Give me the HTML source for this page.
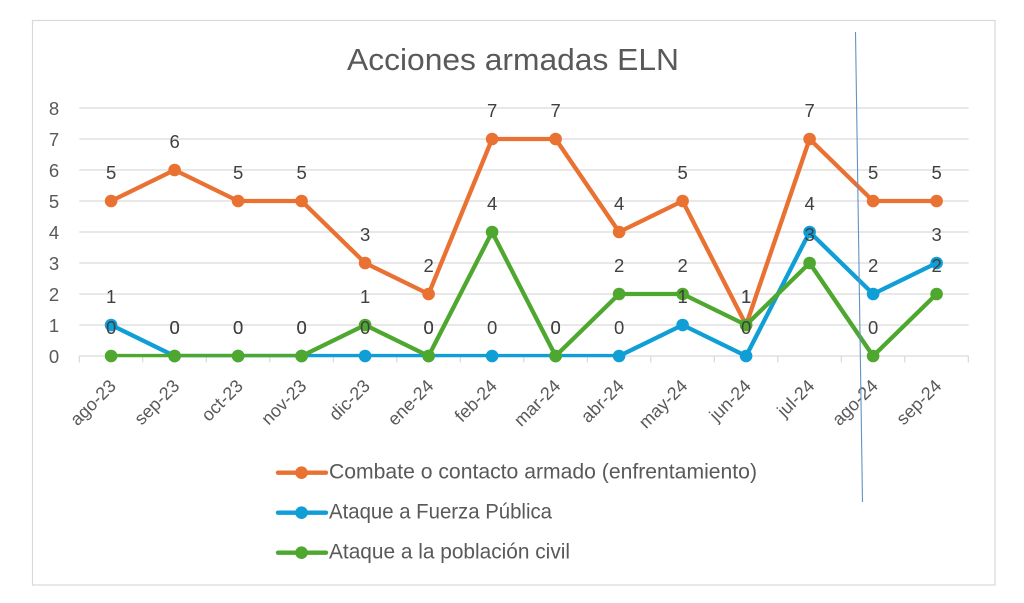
<!DOCTYPE html>
<html>
<head>
<meta charset="utf-8">
<style>
html,body{margin:0;padding:0;background:#ffffff;}
body{width:1024px;height:603px;overflow:hidden;}
svg{display:block;}
text{font-family:"Liberation Sans",Arial,sans-serif;}
</style>
</head>
<body>
<svg width="1024" height="603" viewBox="0 0 1024 603" xmlns="http://www.w3.org/2000/svg">
<defs>
<clipPath id="pc"><rect x="0" y="0" width="1024" height="357.2"/></clipPath>
</defs>
<rect x="0" y="0" width="1024" height="603" fill="#ffffff"/>
<rect x="32.5" y="20.5" width="962.5" height="564.5" fill="#ffffff" stroke="#d9d9d9" stroke-width="1.2"/>

<!-- title -->
<text x="347" y="70" font-size="31" fill="#595959" textLength="332" lengthAdjust="spacingAndGlyphs">Acciones armadas ELN</text>

<!-- gridlines -->
<g stroke="#d9d9d9" stroke-width="1.2">
<line x1="79.3" y1="108" x2="968.7" y2="108"/>
<line x1="79.3" y1="139" x2="968.7" y2="139"/>
<line x1="79.3" y1="170" x2="968.7" y2="170"/>
<line x1="79.3" y1="201" x2="968.7" y2="201"/>
<line x1="79.3" y1="232" x2="968.7" y2="232"/>
<line x1="79.3" y1="263" x2="968.7" y2="263"/>
<line x1="79.3" y1="294" x2="968.7" y2="294"/>
<line x1="79.3" y1="325" x2="968.7" y2="325"/>
<line x1="79.3" y1="356" x2="968.7" y2="356"/>
</g>
<!-- ticks -->
<g stroke="#d9d9d9" stroke-width="1.2">
<line x1="79.3" y1="356" x2="79.3" y2="362.5"/>
<line x1="142.8" y1="356" x2="142.8" y2="362.5"/>
<line x1="206.3" y1="356" x2="206.3" y2="362.5"/>
<line x1="269.8" y1="356" x2="269.8" y2="362.5"/>
<line x1="333.3" y1="356" x2="333.3" y2="362.5"/>
<line x1="396.8" y1="356" x2="396.8" y2="362.5"/>
<line x1="460.3" y1="356" x2="460.3" y2="362.5"/>
<line x1="523.8" y1="356" x2="523.8" y2="362.5"/>
<line x1="587.3" y1="356" x2="587.3" y2="362.5"/>
<line x1="650.8" y1="356" x2="650.8" y2="362.5"/>
<line x1="714.3" y1="356" x2="714.3" y2="362.5"/>
<line x1="777.8" y1="356" x2="777.8" y2="362.5"/>
<line x1="841.3" y1="356" x2="841.3" y2="362.5"/>
<line x1="904.8" y1="356" x2="904.8" y2="362.5"/>
<line x1="968.3" y1="356" x2="968.3" y2="362.5"/>
</g>

<!-- y labels -->
<g font-size="18.5" fill="#595959" text-anchor="middle">
<text x="54" y="114.8">8</text>
<text x="54" y="145.8">7</text>
<text x="54" y="176.8">6</text>
<text x="54" y="207.8">5</text>
<text x="54" y="238.8">4</text>
<text x="54" y="269.8">3</text>
<text x="54" y="300.8">2</text>
<text x="54" y="331.8">1</text>
<text x="54" y="362.8">0</text>
</g>

<!-- x labels -->
<g font-size="18" fill="#595959" text-anchor="end">
<text transform="translate(117.1,387) rotate(-45)">ago-23</text>
<text transform="translate(180.6,387) rotate(-45)">sep-23</text>
<text transform="translate(244.1,387) rotate(-45)">oct-23</text>
<text transform="translate(307.6,387) rotate(-45)">nov-23</text>
<text transform="translate(371.1,387) rotate(-45)">dic-23</text>
<text transform="translate(434.6,387) rotate(-45)">ene-24</text>
<text transform="translate(498.1,387) rotate(-45)">feb-24</text>
<text transform="translate(561.6,387) rotate(-45)">mar-24</text>
<text transform="translate(625.1,387) rotate(-45)">abr-24</text>
<text transform="translate(688.6,387) rotate(-45)">may-24</text>
<text transform="translate(752.1,387) rotate(-45)">jun-24</text>
<text transform="translate(815.6,387) rotate(-45)">jul-24</text>
<text transform="translate(879.1,387) rotate(-45)">ago-24</text>
<text transform="translate(942.6,387) rotate(-45)">sep-24</text>
</g>

<!-- series: orange -->
<g clip-path="url(#pc)">
<polyline fill="none" stroke="#E97132" stroke-width="4.3" stroke-linejoin="round" stroke-linecap="round"
points="111.1,201 174.6,170 238.1,201 301.6,201 365.1,263 428.6,294 492.1,139 555.6,139 619.1,232 682.6,201 746.1,325 809.6,139 873.1,201 936.6,201"/>
</g>
<g fill="#E97132">
<circle cx="111.1" cy="201" r="6.3"/><circle cx="174.6" cy="170" r="6.3"/><circle cx="238.1" cy="201" r="6.3"/>
<circle cx="301.6" cy="201" r="6.3"/><circle cx="365.1" cy="263" r="6.3"/><circle cx="428.6" cy="294" r="6.3"/>
<circle cx="492.1" cy="139" r="6.3"/><circle cx="555.6" cy="139" r="6.3"/><circle cx="619.1" cy="232" r="6.3"/>
<circle cx="682.6" cy="201" r="6.3"/><circle cx="746.1" cy="325" r="6.3"/><circle cx="809.6" cy="139" r="6.3"/>
<circle cx="873.1" cy="201" r="6.3"/><circle cx="936.6" cy="201" r="6.3"/>
</g>

<!-- series: blue -->
<g clip-path="url(#pc)">
<polyline fill="none" stroke="#0F9ED5" stroke-width="4.3" stroke-linejoin="round" stroke-linecap="round"
points="111.1,325 174.6,356 238.1,356 301.6,356 365.1,356 428.6,356 492.1,356 555.6,356 619.1,356 682.6,325 746.1,356 809.6,232 873.1,294 936.6,263"/>
</g>
<g fill="#0F9ED5">
<circle cx="111.1" cy="325" r="6.3"/><circle cx="174.6" cy="356" r="6.3"/><circle cx="238.1" cy="356" r="6.3"/>
<circle cx="301.6" cy="356" r="6.3"/><circle cx="365.1" cy="356" r="6.3"/><circle cx="428.6" cy="356" r="6.3"/>
<circle cx="492.1" cy="356" r="6.3"/><circle cx="555.6" cy="356" r="6.3"/><circle cx="619.1" cy="356" r="6.3"/>
<circle cx="682.6" cy="325" r="6.3"/><circle cx="746.1" cy="356" r="6.3"/><circle cx="809.6" cy="232" r="6.3"/>
<circle cx="873.1" cy="294" r="6.3"/><circle cx="936.6" cy="263" r="6.3"/>
</g>

<!-- series: green -->
<g clip-path="url(#pc)">
<polyline fill="none" stroke="#4EA72E" stroke-width="4.3" stroke-linejoin="round" stroke-linecap="round"
points="111.1,356 174.6,356 238.1,356 301.6,356 365.1,325 428.6,356 492.1,232 555.6,356 619.1,294 682.6,294 746.1,325 809.6,263 873.1,356 936.6,294"/>
</g>
<g fill="#4EA72E">
<circle cx="111.1" cy="356" r="6.3"/><circle cx="174.6" cy="356" r="6.3"/><circle cx="238.1" cy="356" r="6.3"/>
<circle cx="301.6" cy="356" r="6.3"/><circle cx="365.1" cy="325" r="6.3"/><circle cx="428.6" cy="356" r="6.3"/>
<circle cx="492.1" cy="232" r="6.3"/><circle cx="555.6" cy="356" r="6.3"/><circle cx="619.1" cy="294" r="6.3"/>
<circle cx="682.6" cy="294" r="6.3"/><circle cx="746.1" cy="325" r="6.3"/><circle cx="809.6" cy="263" r="6.3"/>
<circle cx="873.1" cy="356" r="6.3"/><circle cx="936.6" cy="294" r="6.3"/>
</g>

<!-- data labels -->
<g font-size="18.5" fill="#404040" text-anchor="middle">
<!-- orange -->
<text x="111.1" y="179">5</text><text x="174.6" y="148">6</text><text x="238.1" y="179">5</text>
<text x="301.6" y="179">5</text><text x="365.1" y="241">3</text><text x="428.6" y="272">2</text>
<text x="492.1" y="117">7</text><text x="555.6" y="117">7</text><text x="619.1" y="210">4</text>
<text x="682.6" y="179">5</text><text x="746.1" y="303">1</text><text x="809.6" y="117">7</text>
<text x="873.1" y="179">5</text><text x="936.6" y="179">5</text>
<!-- blue -->
<text x="111.1" y="303">1</text><text x="174.6" y="334">0</text><text x="238.1" y="334">0</text>
<text x="301.6" y="334">0</text><text x="365.1" y="334">0</text><text x="428.6" y="334">0</text>
<text x="492.1" y="334">0</text><text x="555.6" y="334">0</text><text x="619.1" y="334">0</text>
<text x="682.6" y="303">1</text><text x="746.1" y="334">0</text><text x="809.6" y="210">4</text>
<text x="873.1" y="272">2</text><text x="936.6" y="241">3</text>
<!-- green -->
<text x="111.1" y="334">0</text><text x="174.6" y="334">0</text><text x="238.1" y="334">0</text>
<text x="301.6" y="334">0</text><text x="365.1" y="303">1</text><text x="428.6" y="334">0</text>
<text x="492.1" y="210">4</text><text x="555.6" y="334">0</text><text x="619.1" y="272">2</text>
<text x="682.6" y="272">2</text><text x="746.1" y="303">1</text><text x="809.6" y="241">3</text>
<text x="873.1" y="334">0</text><text x="936.6" y="272">2</text>
</g>

<!-- legend -->
<g stroke-width="4.3" stroke-linecap="round">
<line x1="278" y1="472.7" x2="326" y2="472.7" stroke="#E97132"/>
<line x1="278" y1="512.7" x2="326" y2="512.7" stroke="#0F9ED5"/>
<line x1="278" y1="552.7" x2="326" y2="552.7" stroke="#4EA72E"/>
</g>
<circle cx="301.5" cy="472.7" r="6.3" fill="#E97132"/>
<circle cx="301.5" cy="512.7" r="6.3" fill="#0F9ED5"/>
<circle cx="301.5" cy="552.7" r="6.3" fill="#4EA72E"/>
<g font-size="21" fill="#595959">
<text x="329" y="478.5" textLength="428" lengthAdjust="spacingAndGlyphs">Combate o contacto armado (enfrentamiento)</text>
<text x="329" y="518.5" textLength="223" lengthAdjust="spacingAndGlyphs">Ataque a Fuerza Pública</text>
<text x="329" y="558.5" textLength="241" lengthAdjust="spacingAndGlyphs">Ataque a la población civil</text>
</g>

<!-- thin vertical line -->
<line x1="855.5" y1="32" x2="862.5" y2="502" stroke="#5f93c4" stroke-width="1.1"/>
</svg>
</body>
</html>
